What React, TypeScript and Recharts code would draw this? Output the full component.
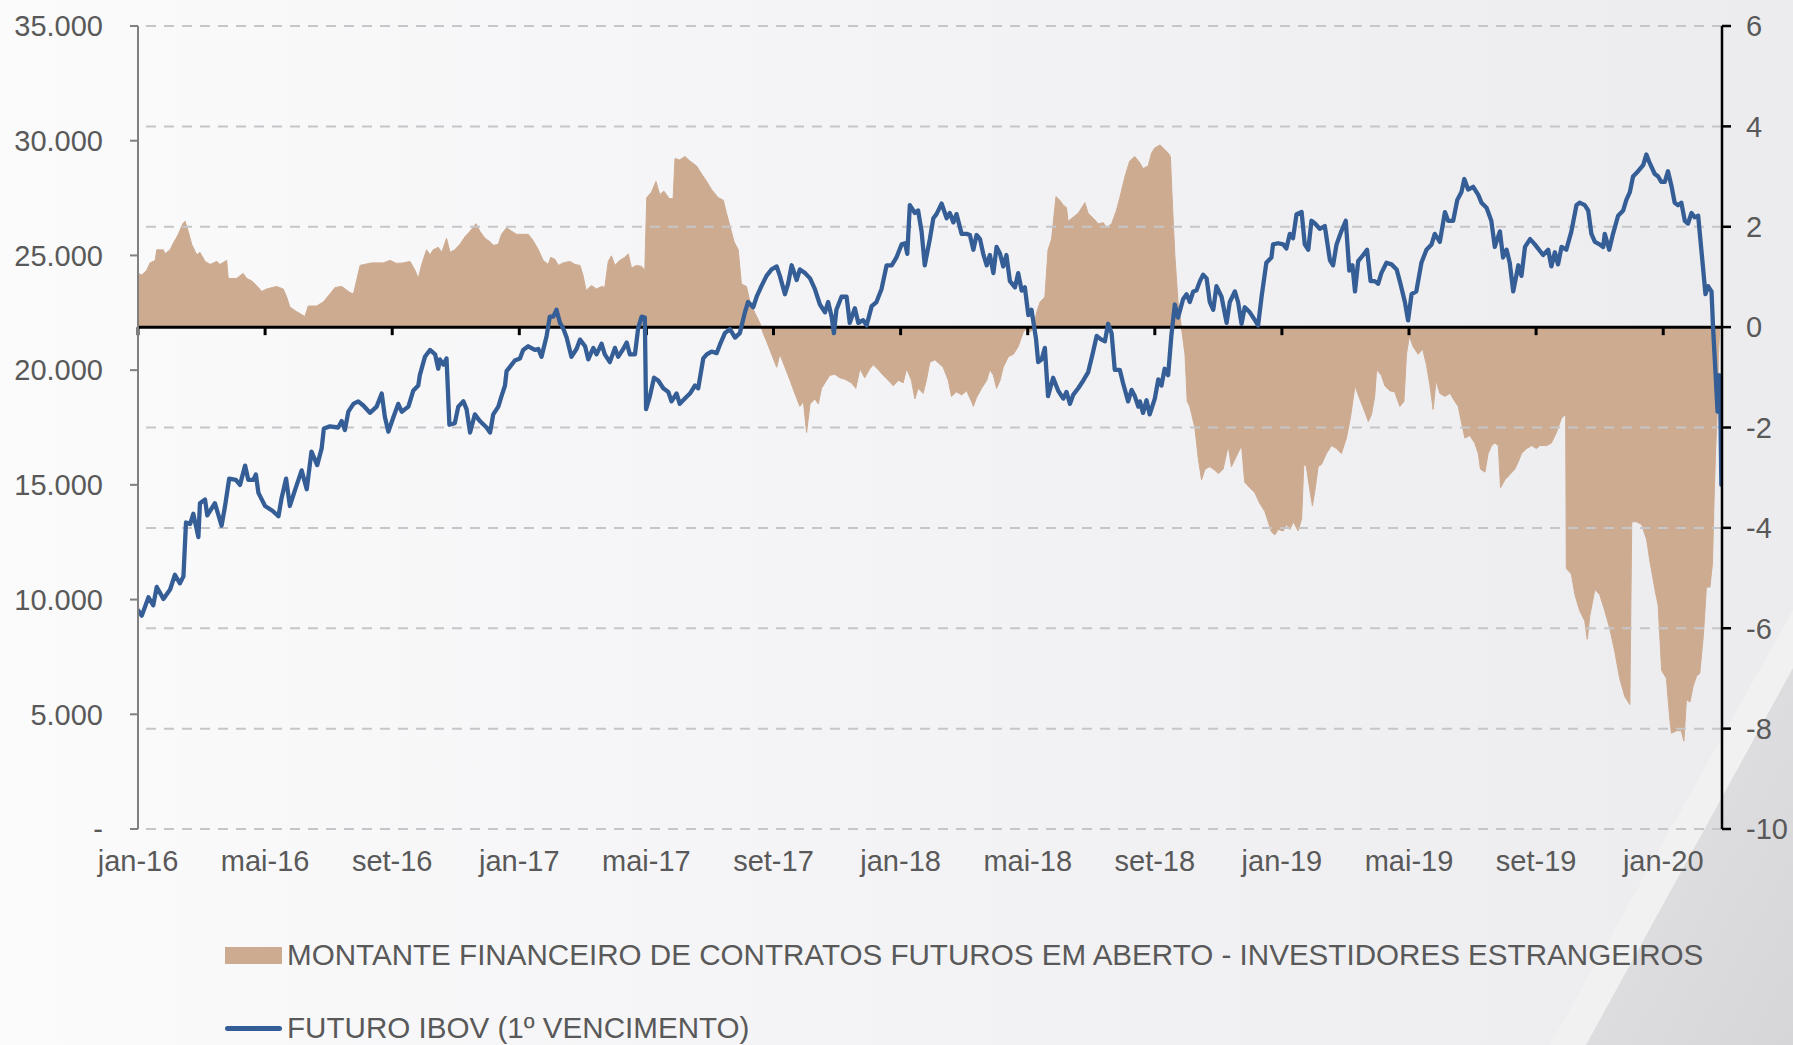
import React from 'react';
import { ComposedChart, Area, Line, XAxis, YAxis, ReferenceLine, Legend } from 'recharts';

// x positions are months counted from jan-16
const monthTicks = [0, 4, 8, 12, 16, 20, 24, 28, 32, 36, 40, 44, 48];
const monthLabels = ['jan-16', 'mai-16', 'set-16', 'jan-17', 'mai-17', 'set-17', 'jan-18', 'mai-18', 'set-18', 'jan-19', 'mai-19', 'set-19', 'jan-20'];
const leftTicks = [0, 5000, 10000, 15000, 20000, 25000, 30000, 35000];
const rightTicks = [-10, -8, -6, -4, -2, 0, 2, 4, 6];
const seriesNames = [
  'MONTANTE FINANCEIRO DE CONTRATOS FUTUROS EM ABERTO - INVESTIDORES ESTRANGEIROS',
  'FUTURO IBOV (1º VENCIMENTO)',
];

// FUTURO IBOV (left axis)
const ibovMonths = [
  0.00, 0.12, 0.33, 0.48, 0.59, 0.80, 1.01, 1.16, 1.32, 1.43, 1.51, 1.64, 1.74, 1.90, 1.95, 2.11, 2.18, 2.42, 2.63, 2.74,
  2.87, 3.08, 3.21, 3.37, 3.47, 3.63, 3.71, 3.79, 4.00, 4.24, 4.42, 4.52, 4.66, 4.78, 4.94, 5.15, 5.31, 5.46, 5.64, 5.78,
  5.85, 6.04, 6.30, 6.41, 6.51, 6.62, 6.78, 6.93, 7.09, 7.30, 7.51, 7.67, 7.77, 7.88, 8.04, 8.19, 8.30, 8.51, 8.66, 8.82,
  8.87, 9.03, 9.19, 9.35, 9.45, 9.50, 9.61, 9.71, 9.80, 9.97, 10.08, 10.24, 10.34, 10.45, 10.60, 10.76, 10.97, 11.08, 11.18, 11.34,
  11.44, 11.55, 11.60, 11.76, 11.86, 12.02, 12.12, 12.28, 12.49, 12.60, 12.70, 12.86, 12.96, 13.07, 13.17, 13.28, 13.38, 13.49, 13.64, 13.80,
  13.91, 14.07, 14.17, 14.33, 14.43, 14.59, 14.69, 14.85, 15.01, 15.11, 15.27, 15.38, 15.48, 15.64, 15.74, 15.85, 15.95, 15.99, 16.11, 16.24,
  16.37, 16.53, 16.69, 16.79, 16.95, 17.05, 17.21, 17.37, 17.53, 17.63, 17.79, 17.90, 18.05, 18.21, 18.31, 18.47, 18.63, 18.79, 18.94, 19.10,
  19.20, 19.36, 19.47, 19.62, 19.78, 19.94, 20.10, 20.20, 20.36, 20.46, 20.57, 20.73, 20.83, 20.99, 21.15, 21.30, 21.46, 21.62, 21.72, 21.83,
  21.90, 21.98, 22.14, 22.30, 22.40, 22.56, 22.67, 22.82, 22.93, 23.09, 23.24, 23.40, 23.56, 23.72, 23.87, 24.03, 24.14, 24.21, 24.29, 24.45,
  24.55, 24.66, 24.76, 24.92, 25.03, 25.13, 25.29, 25.45, 25.55, 25.66, 25.76, 25.92, 26.08, 26.18, 26.29, 26.39, 26.50, 26.60, 26.71, 26.81,
  26.92, 27.02, 27.13, 27.23, 27.33, 27.44, 27.60, 27.70, 27.81, 27.91, 28.02, 28.12, 28.26, 28.33, 28.44, 28.54, 28.64, 28.80, 28.96, 29.12,
  29.22, 29.33, 29.43, 29.59, 29.75, 29.90, 30.04, 30.17, 30.32, 30.43, 30.53, 30.64, 30.74, 30.90, 31.00, 31.16, 31.27, 31.37, 31.48, 31.53,
  31.63, 31.74, 31.84, 32.00, 32.11, 32.21, 32.31, 32.42, 32.52, 32.63, 32.73, 32.89, 33.00, 33.10, 33.21, 33.31, 33.42, 33.52, 33.63, 33.73,
  33.84, 33.94, 34.10, 34.26, 34.36, 34.52, 34.62, 34.73, 34.83, 34.99, 35.15, 35.25, 35.36, 35.51, 35.67, 35.72, 35.88, 36.04, 36.14, 36.25,
  36.35, 36.46, 36.62, 36.72, 36.83, 36.93, 37.04, 37.19, 37.35, 37.51, 37.61, 37.72, 37.87, 38.01, 38.12, 38.22, 38.30, 38.40, 38.56, 38.68,
  38.79, 38.92, 39.03, 39.13, 39.29, 39.45, 39.61, 39.73, 39.87, 39.97, 40.08, 40.23, 40.39, 40.55, 40.71, 40.81, 40.97, 41.13, 41.23, 41.39,
  41.52, 41.65, 41.74, 41.86, 42.02, 42.18, 42.28, 42.44, 42.59, 42.70, 42.86, 42.96, 43.07, 43.17, 43.28, 43.44, 43.54, 43.65, 43.81, 43.96,
  44.22, 44.38, 44.48, 44.59, 44.69, 44.80, 44.95, 45.11, 45.27, 45.37, 45.53, 45.64, 45.74, 45.85, 46.00, 46.11, 46.16, 46.30, 46.42, 46.58,
  46.74, 46.84, 46.95, 47.05, 47.21, 47.37, 47.47, 47.58, 47.73, 47.84, 47.94, 48.05, 48.15, 48.26, 48.36, 48.47, 48.57, 48.68, 48.78, 48.89,
  48.99, 49.10, 49.20, 49.33, 49.41, 49.52, 49.57, 49.65, 49.71, 49.76, 49.80, 49.83,
];
const ibovValues = [
  9530, 9300, 10100, 9750, 10550, 10030, 10440, 11080, 10710, 11010, 13360, 13290, 13740, 12720, 14200, 14360, 13670, 14200, 13220, 14080,
  15270, 15220, 15000, 15840, 15220, 15220, 15450, 14650, 14080, 13860, 13630, 14430, 15270, 14080, 14770, 15630, 14810, 16450, 15860, 16590,
  17460, 17550, 17500, 17780, 17390, 18190, 18530, 18640, 18460, 18140, 18410, 18980, 17960, 17320, 17960, 18530, 18190, 18410, 19100, 19330,
  19780, 20580, 20880, 20690, 20060, 20470, 20240, 20510, 17620, 17690, 18410, 18640, 18300, 17280, 18070, 17780, 17500, 17280, 18070, 18410,
  18870, 19330, 19960, 20240, 20420, 20510, 20880, 21040, 20880, 20920, 20580, 21490, 22330, 22330, 22630, 22060, 21830, 21420, 20580, 20920,
  21330, 21040, 20470, 20970, 20690, 21150, 20690, 20350, 20970, 20580, 20920, 21200, 20690, 20690, 21830, 22330, 22290, 18300, 18870, 19670,
  19550, 19210, 19050, 18640, 18980, 18530, 18760, 18980, 19330, 19210, 20510, 20690, 20810, 20740, 21100, 21610, 21790, 21420, 21610, 22520,
  22970, 22740, 23200, 23660, 24110, 24390, 24520, 24110, 23310, 23770, 24570, 23930, 24390, 24230, 24000, 23540, 22860, 22520, 22970, 22330,
  21610, 22630, 23200, 23200, 22060, 22700, 22060, 22180, 21950, 22790, 22970, 23540, 24570, 24570, 24910, 25480, 25530, 25070, 27190, 26850,
  26960, 26050, 24570, 25710, 26620, 26800, 27260, 26620, 26850, 26440, 26800, 25940, 25940, 25890, 25250, 25890, 25710, 25070, 24570, 25020,
  24230, 25370, 25070, 24520, 25020, 23880, 23610, 24230, 23470, 23610, 22400, 22630, 21380, 20350, 20470, 20970, 18870, 19670, 19100, 18760,
  19050, 18530, 18920, 19210, 19550, 19900, 20690, 21490, 21330, 21260, 22020, 21610, 20010, 20010, 19440, 18640, 19140, 18870, 18410, 18640,
  18140, 18690, 18070, 18760, 19600, 19330, 20060, 19780, 21490, 22860, 22290, 23090, 23310, 22970, 23430, 23470, 23880, 24160, 24000, 22970,
  22630, 23660, 23200, 22060, 22970, 23430, 22970, 22020, 22740, 22520, 22180, 21950, 23200, 24680, 24910, 25480, 25530, 25480, 25300, 25940,
  25750, 26800, 26890, 25480, 25250, 26510, 26390, 26160, 26280, 24800, 24570, 25480, 26050, 26510, 24340, 24570, 23430, 24750, 25020, 25250,
  23880, 23880, 23770, 24230, 24680, 24610, 24390, 23770, 22970, 22170, 23310, 23430, 24680, 25250, 25480, 25940, 25590, 26890, 26510, 26510,
  27420, 27760, 28330, 27870, 27990, 27640, 27300, 27080, 26510, 25370, 26050, 24910, 25250, 24680, 23430, 24570, 24110, 25370, 25710, 25480,
  25020, 25250, 24520, 25140, 24610, 25370, 25250, 26050, 27190, 27300, 27190, 26960, 25940, 25590, 25480, 25370, 25940, 25250, 25940, 26730,
  26960, 27420, 27760, 28440, 28670, 28940, 29400, 29010, 28560, 28440, 28210, 28210, 28670, 28030, 27300, 27190, 27300, 26510, 26390, 26850,
  26660, 26730, 25250, 23310, 23660, 23430, 21830, 19780, 18190, 19780, 18190, 15000,
];

// MONTANTE FINANCEIRO - INVESTIDORES ESTRANGEIROS (right axis)
const flowMonths = [
  0.00, 0.12, 0.27, 0.38, 0.54, 0.59, 0.80, 0.85, 1.01, 1.11, 1.27, 1.41, 1.48, 1.58, 1.69, 1.85, 1.95, 2.11, 2.27, 2.48,
  2.58, 2.79, 2.84, 3.10, 3.31, 3.42, 3.58, 3.79, 3.89, 4.05, 4.36, 4.57, 4.68, 4.78, 4.99, 5.25, 5.36, 5.62, 5.83, 6.04,
  6.20, 6.41, 6.67, 6.78, 6.99, 7.35, 7.72, 7.93, 8.14, 8.35, 8.56, 8.72, 8.82, 8.93, 9.08, 9.19, 9.29, 9.45, 9.56, 9.71,
  9.82, 9.97, 10.13, 10.29, 10.45, 10.64, 10.76, 10.92, 11.08, 11.18, 11.34, 11.44, 11.60, 11.76, 11.91, 12.07, 12.28, 12.44, 12.60, 12.75,
  12.91, 12.99, 13.12, 13.23, 13.38, 13.59, 13.75, 13.91, 14.01, 14.10, 14.27, 14.43, 14.59, 14.69, 14.80, 14.90, 15.01, 15.16, 15.32, 15.43,
  15.53, 15.69, 15.85, 15.95, 16.01, 16.16, 16.30, 16.42, 16.55, 16.72, 16.84, 16.90, 17.05, 17.21, 17.37, 17.58, 17.74, 17.90, 18.05, 18.26,
  18.42, 18.52, 18.63, 18.76, 18.89, 18.99, 19.15, 19.26, 19.41, 19.57, 19.68, 19.78, 19.94, 20.10, 20.20, 20.36, 20.52, 20.67, 20.83, 20.94,
  21.04, 21.15, 21.30, 21.41, 21.51, 21.67, 21.77, 21.93, 22.09, 22.25, 22.45, 22.59, 22.72, 22.87, 23.03, 23.14, 23.30, 23.45, 23.61, 23.77,
  23.93, 24.08, 24.19, 24.34, 24.45, 24.55, 24.71, 24.81, 24.92, 25.08, 25.34, 25.50, 25.60, 25.76, 25.92, 26.08, 26.23, 26.29, 26.39, 26.55,
  26.71, 26.81, 26.92, 27.02, 27.13, 27.23, 27.39, 27.55, 27.70, 27.86, 27.97, 28.07, 28.18, 28.28, 28.39, 28.54, 28.64, 28.75, 28.89, 29.01,
  29.12, 29.22, 29.27, 29.43, 29.59, 29.80, 29.90, 30.06, 30.22, 30.38, 30.48, 30.64, 30.79, 30.90, 31.06, 31.21, 31.37, 31.53, 31.63, 31.79,
  31.90, 32.00, 32.16, 32.26, 32.42, 32.49, 32.56, 32.63, 32.73, 32.84, 32.95, 33.02, 33.10, 33.26, 33.37, 33.47, 33.58, 33.73, 33.89, 34.00,
  34.15, 34.31, 34.41, 34.57, 34.73, 34.83, 34.99, 35.15, 35.30, 35.46, 35.57, 35.67, 35.78, 35.88, 36.04, 36.15, 36.25, 36.36, 36.51, 36.62,
  36.69, 36.77, 36.88, 36.96, 37.04, 37.14, 37.25, 37.40, 37.56, 37.72, 37.87, 38.03, 38.16, 38.30, 38.45, 38.61, 38.72, 38.82, 38.92, 38.98,
  39.13, 39.24, 39.40, 39.55, 39.71, 39.84, 39.92, 40.01, 40.13, 40.29, 40.43, 40.55, 40.66, 40.76, 40.85, 40.97, 41.13, 41.29, 41.44, 41.55,
  41.65, 41.76, 41.91, 42.07, 42.18, 42.25, 42.39, 42.49, 42.60, 42.70, 42.81, 42.88, 43.02, 43.17, 43.33, 43.44, 43.54, 43.70, 43.86, 44.01,
  44.12, 44.33, 44.48, 44.64, 44.80, 44.93, 44.95, 45.11, 45.22, 45.37, 45.53, 45.61, 45.69, 45.85, 46.00, 46.16, 46.32, 46.48, 46.63, 46.79,
  46.95, 47.01, 47.16, 47.32, 47.48, 47.58, 47.74, 47.84, 47.95, 48.10, 48.21, 48.26, 48.42, 48.57, 48.65, 48.73, 48.84, 48.94, 49.05, 49.15,
  49.26, 49.36, 49.47, 49.55, 49.60, 49.65, 49.70, 49.74, 49.78, 49.85,
];
const flowValues = [
  1.07, 1.04, 1.13, 1.28, 1.33, 1.54, 1.54, 1.46, 1.54, 1.67, 1.85, 2.06, 2.11, 1.91, 1.65, 1.44, 1.49, 1.31, 1.25, 1.31,
  1.25, 1.33, 0.97, 0.97, 1.07, 0.97, 0.92, 0.79, 0.71, 0.76, 0.81, 0.76, 0.60, 0.40, 0.31, 0.21, 0.42, 0.42, 0.50, 0.66,
  0.79, 0.81, 0.69, 0.66, 1.23, 1.28, 1.28, 1.33, 1.27, 1.28, 1.31, 1.13, 0.97, 1.25, 1.54, 1.44, 1.54, 1.59, 1.49, 1.77,
  1.49, 1.54, 1.65, 1.80, 1.91, 2.06, 1.91, 1.77, 1.70, 1.63, 1.65, 1.85, 1.98, 1.91, 1.85, 1.85, 1.85, 1.72, 1.54, 1.33,
  1.25, 1.39, 1.35, 1.23, 1.28, 1.31, 1.25, 1.23, 1.02, 0.73, 0.83, 0.76, 0.81, 0.79, 1.31, 1.42, 1.23, 1.33, 1.39, 1.46,
  1.18, 1.23, 1.21, 1.13, 2.58, 2.69, 2.90, 2.64, 2.71, 2.56, 2.56, 3.36, 3.33, 3.40, 3.31, 3.21, 3.05, 2.90, 2.74, 2.58,
  2.53, 2.27, 2.01, 1.70, 1.54, 0.86, 0.81, 0.50, 0.29, 0.08, -0.13, -0.28, -0.54, -0.80, -0.54, -0.80, -1.06, -1.32, -1.58, -1.48,
  -2.10, -1.53, -1.43, -1.53, -1.22, -1.06, -0.96, -0.94, -1.01, -1.04, -1.11, -1.22, -0.83, -1.01, -0.83, -0.75, -0.85, -0.96, -1.06, -1.17,
  -1.06, -1.11, -0.83, -1.06, -1.43, -1.22, -1.32, -1.06, -0.70, -0.65, -0.80, -1.06, -1.38, -1.29, -1.35, -1.27, -1.48, -1.58, -1.40, -1.22,
  -1.06, -0.85, -0.96, -1.22, -1.06, -0.80, -0.59, -0.54, -0.39, -0.10, -0.02, -0.10, -0.02, 0.29, 0.50, 0.60, 1.54, 1.75, 2.60, 2.53,
  2.43, 2.38, 2.11, 2.19, 2.27, 2.48, 2.27, 2.17, 2.06, 2.08, 1.98, 2.06, 2.32, 2.58, 3.00, 3.31, 3.40, 3.27, 3.16, 3.21,
  3.47, 3.57, 3.63, 3.57, 3.47, 3.40, 2.38, 1.44, 0.50, -0.02, -0.54, -1.48, -1.58, -2.00, -2.63, -3.04, -2.83, -2.78, -2.85, -2.92,
  -2.83, -2.36, -2.78, -2.57, -2.36, -3.09, -3.20, -3.30, -3.51, -3.67, -3.88, -4.08, -4.14, -4.03, -4.06, -3.93, -4.03, -3.88, -4.06, -3.82,
  -2.73, -2.78, -3.25, -3.56, -3.25, -2.78, -2.73, -2.52, -2.36, -2.42, -2.52, -2.21, -1.79, -1.17, -1.43, -1.69, -1.88, -1.74, -1.38, -0.85,
  -0.96, -1.17, -1.27, -1.29, -1.58, -1.48, -0.54, -0.18, -0.39, -0.54, -0.44, -0.75, -1.17, -1.64, -1.06, -1.32, -1.38, -1.32, -1.48, -1.58,
  -1.90, -2.21, -2.16, -2.31, -2.52, -2.83, -2.89, -2.52, -2.36, -2.31, -2.36, -3.20, -3.04, -2.94, -2.83, -2.68, -2.52, -2.42, -2.36, -2.42,
  -2.36, -2.36, -2.31, -2.10, -1.81, -1.74, -4.81, -4.92, -5.33, -5.65, -5.85, -6.22, -5.75, -5.23, -5.33, -5.65, -6.01, -6.48, -7.00, -7.36,
  -7.52, -3.88, -3.88, -3.93, -4.24, -4.66, -5.23, -5.54, -6.84, -7.00, -7.83, -8.09, -8.04, -8.04, -8.25, -7.42, -7.47, -7.16, -6.95, -6.90,
  -6.17, -5.18, -5.18, -4.71, -3.46, -2.42, -1.69, -0.54, -0.02, 0,
];

const AREA_COLOR = '#CDAB91';
const LINE_COLOR = '#355E96';
const TEXT_COLOR = '#595959';
const FONT = '"Liberation Sans", Arial, sans-serif';

type Row = { m: number; ibov?: number; flow?: number };

function buildRows(): Row[] {
  const byMonth = new Map<number, Row>();
  ibovMonths.forEach((m, i) => {
    const r = byMonth.get(m) || { m };
    r.ibov = ibovValues[i];
    byMonth.set(m, r);
  });
  flowMonths.forEach((m, i) => {
    const r = byMonth.get(m) || { m };
    r.flow = flowValues[i];
    byMonth.set(m, r);
  });
  return Array.from(byMonth.values()).sort((a, b) => a.m - b.m);
}

const rows = buildRows();

const fmtLeft = (v: number) => (v === 0 ? '-' : `${v / 1000}.000`);
const fmtMonth = (v: number) => monthLabels[monthTicks.indexOf(v)] ?? '';

function LegendBox() {
  return (
    <div style={{ fontFamily: FONT, fontSize: 29.6, color: TEXT_COLOR, whiteSpace: 'nowrap', textAlign: 'left' }}>
      <div style={{ display: 'flex', alignItems: 'center', height: 34 }}>
        <span style={{ display: 'inline-block', width: 57, height: 17, background: AREA_COLOR, marginRight: 5 }} />
        <span>{seriesNames[0]}</span>
      </div>
      <div style={{ display: 'flex', alignItems: 'center', height: 34, marginTop: 39 }}>
        <span style={{ display: 'inline-block', width: 57, height: 5, borderRadius: 3, background: LINE_COLOR, marginRight: 5 }} />
        <span>{seriesNames[1]}</span>
      </div>
    </div>
  );
}

export default function App() {
  const tickStyle = { fill: TEXT_COLOR, fontSize: 29, fontFamily: FONT };
  return (
    <div
      style={{
        position: 'absolute',
        left: 0,
        top: 0,
        width: 1793,
        height: 1045,
        overflow: 'hidden',
        background: 'linear-gradient(90deg, #fbfbfc 0%, #f4f4f6 45%, #ececee 100%)',
      }}
    >
      <svg width={1793} height={1045} style={{ position: 'absolute', left: 0, top: 0 }}>
        <defs>
          <linearGradient id="corner" x1="0" y1="0" x2="1" y2="1">
            <stop offset="0%" stopColor="#e4e4e6" />
            <stop offset="100%" stopColor="#d6d6d8" />
          </linearGradient>
        </defs>
        <polygon points="1793,610 1793,668 1586,1045 1550,1045" fill="#f1f1f2" />
        <polygon points="1793,668 1793,1045 1586,1045" fill="url(#corner)" />
      </svg>
      <div style={{ position: 'absolute', left: 0, top: 0 }}>
        <ComposedChart width={1793} height={1045} data={rows} margin={{ top: 26, right: 0, bottom: 0, left: 0 }}>
          <XAxis
            dataKey="m"
            type="number"
            domain={[0, 49.85]}
            ticks={monthTicks}
            interval={0}
            tickFormatter={fmtMonth}
            axisLine={false}
            tickLine={false}
            tickSize={0}
            tickMargin={21}
            height={216}
            tick={tickStyle}
            allowDataOverflow
          />
          <YAxis
            yAxisId="left"
            orientation="left"
            domain={[0, 35000]}
            ticks={leftTicks}
            interval={0}
            tickFormatter={fmtLeft}
            width={138}
            tickSize={8}
            tickMargin={27}
            axisLine={{ stroke: '#808080', strokeWidth: 2 }}
            tickLine={{ stroke: '#808080', strokeWidth: 2 }}
            tick={tickStyle}
          />
          <YAxis
            yAxisId="right"
            orientation="right"
            domain={[-10, 6]}
            ticks={rightTicks}
            interval={0}
            width={71}
            tickSize={9}
            tickMargin={15}
            axisLine={{ stroke: '#000', strokeWidth: 2.5 }}
            tickLine={{ stroke: '#000', strokeWidth: 2.5 }}
            tick={tickStyle}
          />
          <Area
            yAxisId="right"
            dataKey="flow"
            name={seriesNames[0]}
            type="linear"
            baseValue={0}
            fill={AREA_COLOR}
            fillOpacity={1}
            stroke={AREA_COLOR}
            strokeWidth={1}
            connectNulls
            dot={false}
            activeDot={false}
            isAnimationActive={false}
          />
          {rightTicks
            .filter((t) => t !== 0)
            .map((t) => (
              <ReferenceLine
                key={`g${t}`}
                yAxisId="right"
                y={t}
                stroke="#c6c6c8"
                strokeWidth={2}
                strokeDasharray="10 8"
              />
            ))}
          <ReferenceLine yAxisId="right" y={0} stroke="#000" strokeWidth={3} />
          {monthTicks.map((m) => (
            <ReferenceLine
              key={`t${m}`}
              yAxisId="right"
              segment={[
                { x: m, y: 0 },
                { x: m, y: -0.16 },
              ]}
              stroke="#000"
              strokeWidth={3}
            />
          ))}
          <Line
            yAxisId="left"
            dataKey="ibov"
            name={seriesNames[1]}
            type="linear"
            stroke={LINE_COLOR}
            strokeWidth={4.3}
            strokeLinejoin="round"
            strokeLinecap="round"
            connectNulls
            dot={false}
            activeDot={false}
            isAnimationActive={false}
          />
          <Legend
            verticalAlign="middle"
            align="center"
            layout="horizontal"
            wrapperStyle={{ top: 938, left: 225, width: 1560, height: 107 }}
            content={() => <LegendBox />}
          />
        </ComposedChart>
      </div>
    </div>
  );
}
